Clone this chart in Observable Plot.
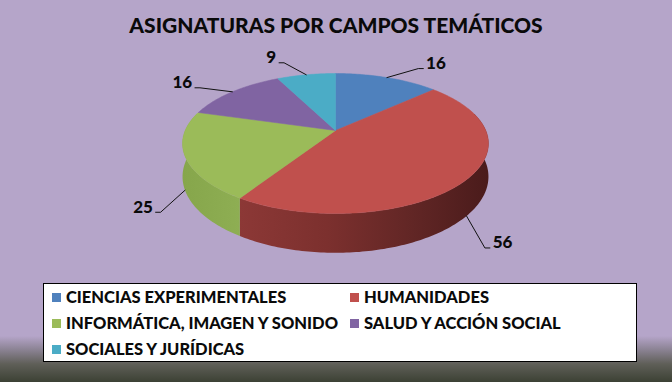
<!DOCTYPE html>
<html><head><meta charset="utf-8">
<script src="https://cdn.jsdelivr.net/npm/d3@7"></script>
<script src="https://cdn.jsdelivr.net/npm/@observablehq/plot@0.6"></script>
<style>
html,body{margin:0;padding:0}
body{width:672px;height:382px;overflow:hidden;font-family:Lato,sans-serif;
background:linear-gradient(to bottom,#B5A5C9 0px,#B5A5C9 336px,#8a8292 350px,#5f5f58 364px,#3c4134 382px);}
#title{height:48px;line-height:50px;text-align:center;font-weight:900;font-size:21px;color:#0a0a0a;}
#chart svg{display:block}
#legend{margin:3px 0 0 43px;width:592px;height:77px;border:1px solid #000;background:#fff;box-sizing:content-box;overflow:hidden}
.lg-swatches{font-family:Lato,sans-serif;font-size:16.5px;font-weight:900;color:#0a0a0a;margin:0;padding:0 0 0 8px;min-height:0;width:620px}
.lg-swatch{width:298px;margin-right:0;height:26px}
.lg-swatch > svg{margin-right:5px}
</style></head>
<body>
<svg width="0" height="0" style="position:absolute"><defs>
<linearGradient id="sideRed" x1="0" x2="1" y1="0" y2="0">
<stop offset="0" stop-color="#8c3836"/><stop offset="0.35" stop-color="#7c302e"/>
<stop offset="0.7" stop-color="#612625"/><stop offset="1" stop-color="#4a1b1b"/></linearGradient>
<linearGradient id="sideGreen" x1="0" x2="1" y1="0" y2="0">
<stop offset="0" stop-color="#86a64b"/><stop offset="1" stop-color="#8eae53"/></linearGradient>
<linearGradient id="sideBlue"><stop offset="0" stop-color="#3b6290"/></linearGradient>
<linearGradient id="sidePurple"><stop offset="0" stop-color="#614b7c"/></linearGradient>
<linearGradient id="sideCyan"><stop offset="0" stop-color="#388396"/></linearGradient>
</defs></svg>
<div id="title"></div>
<div id="chart"></div>
<div id="legend"></div>
<script>
const title = "ASIGNATURAS POR CAMPOS TEMÁTICOS";
const categories = ["CIENCIAS EXPERIMENTALES","HUMANIDADES","INFORMÁTICA, IMAGEN Y SONIDO","SALUD Y ACCIÓN SOCIAL","SOCIALES Y JURÍDICAS"];
const values = [16, 56, 25, 16, 9];
const colors = ["#4F81BD","#C0504D","#9BBB59","#8064A2","#4BACC6"];
const sideFills = ["url(#sideBlue)","url(#sideRed)","url(#sideGreen)","url(#sidePurple)","url(#sideCyan)"];
// label offsets from the slice's leader anchor (layout)
const labelOffsets = [[49,-14],[36,27],[-42,17],[-50,-9],[-35,-17]];

document.getElementById("title").textContent = title;

// 3D perspective pie projection
const CX = 335, CY = 130, A = 150.3, B = 67.59, C = -0.1857, D0 = 32;
function proj(phi, bottom) {
  const x = Math.sin(phi), y = -Math.cos(phi), w = 1 + C * y;
  return [CX + A * x / w, CY + B * y / w + (bottom ? D0 / w : 0)];
}
const deg = Math.PI / 180;
const arcs = d3.pie().sort(null).value(d => d)(values);

const tops = [], sides = [], leaders = [], labels = [];
arcs.forEach((a, i) => {
  const n = Math.max(2, Math.ceil((a.endAngle - a.startAngle) / deg));
  const top = [{x: CX, y: CY}];
  for (let k = 0; k <= n; k++) {
    const p = proj(a.startAngle + (a.endAngle - a.startAngle) * k / n, false);
    top.push({x: p[0], y: p[1]});
  }
  top.push({x: CX, y: CY});
  tops.push(top);
  const s0 = Math.max(a.startAngle, 75 * deg), s1 = Math.min(a.endAngle, 285 * deg);
  if (s1 > s0) {
    const m = Math.max(2, Math.ceil((s1 - s0) / deg));
    const up = [], dn = [];
    for (let k = 0; k <= m; k++) {
      const t = s0 + (s1 - s0) * k / m;
      const p = proj(t, false), q = proj(t, true);
      up.push({x: p[0], y: p[1]}); dn.push({x: q[0], y: q[1]});
    }
    sides.push({pts: up.concat(dn.reverse(), [up[0]]), fill: sideFills[i]});
  }
  const mid = (a.startAngle + a.endAngle) / 2;
  const front = -Math.cos(mid) > 0;
  const an = proj(mid, front);
  const [dx, dy] = labelOffsets[i];
  const lx = an[0] + dx, ly = an[1] + dy;
  const txt = String(values[i]);
  const hw = txt.length * 4.8 + 3;
  const sgn = dx > 0 ? 1 : -1;
  const ex = lx - sgn * hw, ey = ly + 5;
  leaders.push([{x: an[0], y: an[1]}, {x: ex - sgn * 5, y: ey}, {x: ex, y: ey}]);
  labels.push({x: lx, y: ly, text: txt});
});

const marks = [];
sides.forEach(s => marks.push(Plot.line(s.pts, {x: "x", y: "y", fill: s.fill, stroke: "none"})));
tops.forEach((t, i) => marks.push(Plot.line(t, {x: "x", y: "y", fill: colors[i], stroke: colors[i], strokeWidth: 0.5})));
leaders.forEach(l => marks.push(Plot.line(l, {x: "x", y: "y", stroke: "#111", strokeWidth: 1})));
marks.push(Plot.text(labels, {x: "x", y: "y", text: "text", fontSize: 17, fontWeight: 900, fill: "#0a0a0a", fontFamily: "Lato", textAnchor: "middle", lineAnchor: "middle"}));

const chart = Plot.plot({
  width: 672, height: 232,
  marginTop: 0, marginRight: 0, marginBottom: 0, marginLeft: 0,
  x: {domain: [0, 672], range: [0, 672], axis: null},
  y: {domain: [48, 280], range: [0, 232], axis: null},
  style: {background: "transparent", overflow: "visible"},
  marks
});
document.getElementById("chart").append(chart);

const legend = Plot.legend({
  color: {type: "ordinal", domain: categories, range: colors},
  legend: "swatches", swatchSize: 9, className: "lg"
});
document.getElementById("legend").append(legend);
</script>
</body></html>
